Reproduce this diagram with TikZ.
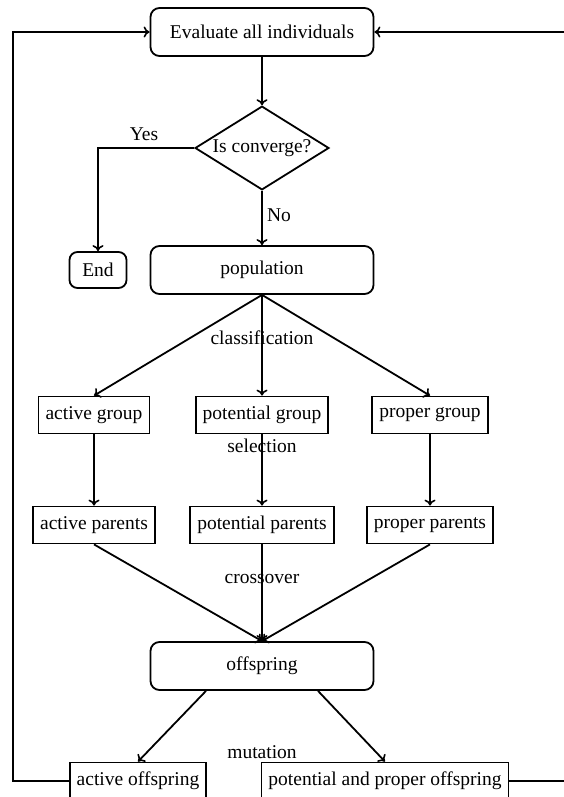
\documentclass[tikz,border=0pt]{standalone}
\usepackage{fontspec}
\setmainfont{Liberation Serif}
\usetikzlibrary{shapes.geometric,arrows.meta}
\begin{document}
\begin{tikzpicture}[x=1pt,y=-1pt, font=\fontsize{19.5}{23}\selectfont,
 line width=1.8pt, >={Computer Modern Rightarrow[length=6pt,width=11pt,line width=1.6pt]},
 rbox/.style={draw, rounded corners=9pt, minimum width=223pt, minimum height=48pt, inner sep=0pt},
 sbox/.style={draw, minimum height=37pt, inner xsep=7pt, inner ysep=0pt},
 endbox/.style={draw, rounded corners=8pt, minimum width=57pt, minimum height=36pt, inner sep=0pt},
 dec/.style={draw, diamond, aspect=1.6, inner sep=1.5pt},
 lbl/.style={inner sep=0pt}]
\useasboundingbox (0,0) rectangle (564,797);
\node[rbox] (ev) at (262,32) {Evaluate all individuals};
\node[dec] (cv) at (262,148) {Is converge?};
\node[endbox] (en) at (98,270) {End};
\node[rbox] (pop) at (262,270) {population};
\node[sbox] (ag) at (94,415) {active group};
\node[sbox] (tg) at (262,415) {potential group};
\node[sbox] (rg) at (430,415) {proper group};
\node[sbox] (ap) at (94,525) {active parents};
\node[sbox] (tp) at (262,525) {potential parents};
\node[sbox] (rp) at (430,525) {proper parents};
\node[rbox] (off) at (262,666) {offspring};
\node[sbox] (ao) at (138,781) {active offspring};
\node[sbox] (po) at (385,781) {potential and proper offspring};
\coordinate (L) at (13,32);
\coordinate (R) at (572,32);
\node[lbl] (yes) at (144,134) {Yes};
\node[lbl] (no) at (279,215) {No};
\node[lbl] (cl) at (262,338) {classification};
\node[lbl] (se) at (262,446) {selection};
\node[lbl] (cr) at (262,579) {crossover};
\node[lbl] (mu) at (262,752) {mutation};
\draw[->] (ev.south) -- (cv.north);
\draw[->] (cv.west) -| (en.north);
\draw[->] (cv.south) -- (pop.north);
\draw[->] (pop.south) -- (ag.north);
\draw[->] (pop.south) -- (tg.north);
\draw[->] (pop.south) -- (rg.north);
\draw[->] (ag.south) -- (ap.north);
\draw[->] (tg.south) -- (tp.north);
\draw[->] (rg.south) -- (rp.north);
\draw[->] (ap.south) -- (off.north);
\draw[->] (tp.south) -- (off.north);
\draw[->] (rp.south) -- (off.north);
\draw[->] ([xshift=-56pt]off.south) -- (ao.north);
\draw[->] ([xshift=56pt]off.south) -- (po.north);
\draw[->] (ao.west) -| (L) -- (ev.west);
\draw[->] (po.east) -| (R) -- (ev.east);
\end{tikzpicture}
\end{document}
